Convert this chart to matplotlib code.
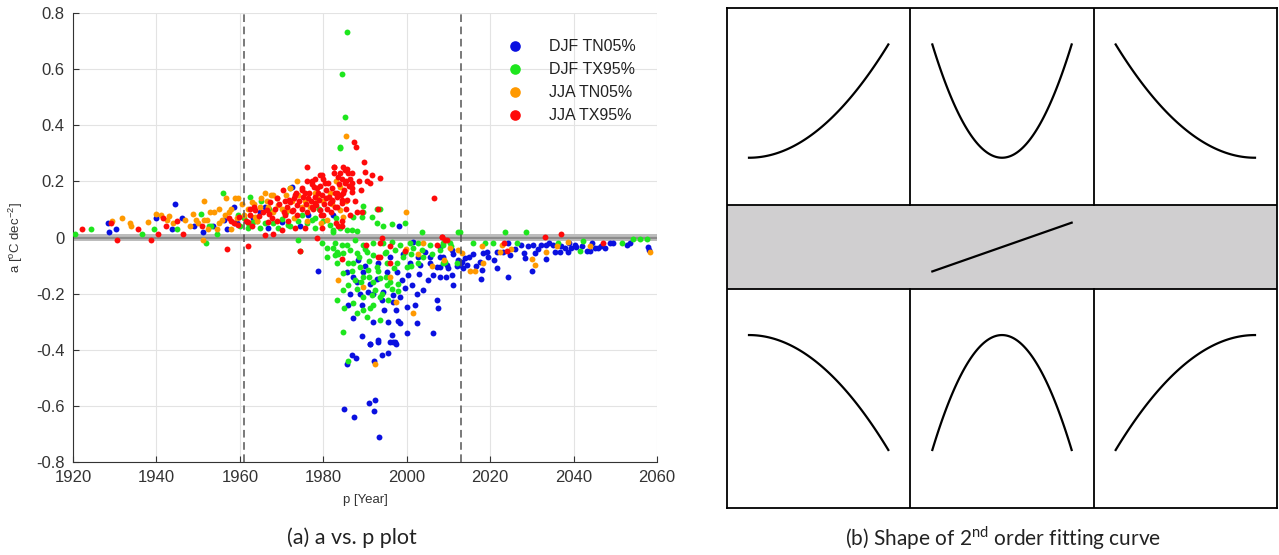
import numpy as np
import matplotlib.pyplot as plt

# ---- panel (a) data: (p [year], a [degC dec^-2])
djf_tn05 = [
    (1928.5, 0.05), (1928.7, 0.02), (1930.3, 0.03), (1940.0, 0.07), (1943.7, 0.03), (1944.5, 0.12),
    (1946.2, 0.07), (1949.0, 0.042), (1951.2, 0.02), (1953.5, 0.042), (1956.3, 0.062), (1957.0, 0.03),
    (1958.6, 0.11), (1959.3, 0.05), (1958.8, 0.05), (1972.6, 0.181), (1964.8, 0.092), (1966.0, 0.11),
    (1963.2, 0.068), (1970.0, 0.056), (1966.8, 0.033), (1974.4, 0.041), (1976.4, 0.08), (1982.4, 0.08),
    (1998.2, 0.041), (1978.8, -0.118),
    (1985.6, -0.122), (1987.2, -0.14), (1988.4, -0.08), (1989.6, -0.122), (1991.2, -0.164), (1992.8, -0.149),
    (1995.2, -0.122), (1997.6, -0.122), (1998.8, -0.152), (2000.4, -0.134), (2001.2, -0.17), (1986.4, -0.2),
    (1988.8, -0.2), (1990.8, -0.193), (1992.0, -0.2), (1994.4, -0.193), (1996.8, -0.205), (1998.4, -0.211),
    (2002.4, -0.2), (2004.0, -0.188), (1994.0, -0.223), (1989.2, -0.241), (1996.8, -0.229), (2000.0, -0.247),
    (1987.2, -0.288), (1992.0, -0.3), (1995.6, -0.3), (1998.0, -0.297), (1998.4, -0.306), (2002.4, -0.306),
    (1989.2, -0.352), (1993.2, -0.366), (1996.4, -0.348), (1997.2, -0.372), (2000.0, -0.342), (2006.4, -0.34),
    (1991.2, -0.378), (2002.8, -0.068), (2004.4, -0.05), (2005.6, -0.092), (2007.2, -0.104), (2009.6, -0.098),
    (2010.8, -0.134), (2005.6, -0.068), (2008.0, -0.068), (2000.8, -0.092), (2003.2, -0.098), (2006.4, -0.134),
    (2007.2, -0.223), (2007.6, -0.253), (2001.6, -0.015),
    (1991.2, -0.38), (1993.2, -0.372), (1996.0, -0.372), (1996.8, -0.372), (1997.4, -0.38), (1986.8, -0.42),
    (1987.8, -0.429), (1985.6, -0.449), (1992.2, -0.44), (1994.1, -0.42), (1995.6, -0.41), (1985.0, -0.61),
    (1987.4, -0.64), (1991.0, -0.589), (1992.4, -0.58), (1992.2, -0.62), (1993.4, -0.711),
    (2008.0, -0.033), (2010.8, -0.045), (2008.8, -0.068), (2008.0, -0.104), (2010.0, -0.11), (2011.2, -0.17),
    (2009.4, -0.14), (2012.4, -0.08), (2012.8, -0.098), (2013.2, -0.086), (2014.0, -0.074), (2014.4, -0.098),
    (2016.0, -0.059), (2017.6, -0.086), (2018.2, -0.056), (2019.2, -0.05), (2018.0, -0.116), (2017.7, -0.149),
    (2021.7, -0.11), (2021.6, -0.05), (2024.4, -0.021), (2024.7, -0.062), (2024.4, -0.14), (2027.5, -0.027),
    (2028.0, -0.056), (2028.3, -0.074), (2030.0, -0.118), (2030.3, -0.027), (2030.7, -0.056), (2032.3, -0.027),
    (2033.4, -0.078), (2033.5, -0.027), (2035.1, -0.027), (2035.5, -0.05), (2036.7, -0.05), (2038.0, -0.039),
    (2038.7, -0.05), (2039.5, -0.039), (2040.3, -0.027), (2040.7, -0.033), (2043.1, -0.047), (2043.9, -0.047),
    (2045.1, -0.039), (2045.9, -0.039), (2047.5, -0.039), (2048.7, -0.018), (2052.7, -0.027), (2057.9, -0.033),
    (2058.1, -0.045),
    (1990.0, -0.1), (1993.0, -0.09), (1996.0, -0.07), (1999.0, -0.06), (2003.0, -0.13), (2005.0, -0.15),
    (2008.0, -0.14), (1994.5, -0.26), (1997.5, -0.26), (2002.0, -0.24), (1999.5, -0.18), (1988.0, -0.16),
    (1986.0, -0.24), (2011.0, -0.06), (2012.0, -0.1), (2013.5, -0.11), (2015.0, -0.07), (2016.5, -0.1),
    (2019.5, -0.07), (2021.0, -0.08), (2023.0, -0.05), (2026.0, -0.04), (2029.0, -0.03), (2031.5, -0.04),
    (2034.0, -0.02), (2037.0, -0.03), (2039.0, -0.02), (2042.0, -0.03), (2044.5, -0.02), (2046.5, -0.03),
    (2049.5, -0.02), (2053.5, -0.02),
]

djf_tx95 = [
    (1924.3, 0.03), (1920.5, 0.012), (1936.5, 0.012), (1939.4, 0.03), (1945.0, 0.03), (1950.7, 0.083),
    (1952.5, 0.042), (1953.2, 0.042), (1952.0, -0.018), (1954.5, 0.012), (1956.0, 0.16), (1960.0, 0.04),
    (1972.0, 0.175), (1962.4, 0.146), (1963.2, 0.056), (1962.0, 0.033), (1964.8, 0.033), (1969.2, 0.033),
    (1971.6, 0.045), (1978.0, 0.033), (1977.2, 0.062), (1982.4, 0.025), (1974.0, -0.009), (1974.4, -0.048),
    (1979.6, -0.019), (1980.8, -0.039), (1982.4, -0.039), (1980.8, -0.069), (1982.8, -0.063), (1984.4, -0.027),
    (1959.6, 0.08), (1984.1, 0.32),
    (1985.8, 0.733), (1984.4, 0.583), (1985.2, 0.431), (1984.0, 0.322),
    (1993.6, 0.1), (1989.6, 0.112), (1989.6, 0.092), (1992.8, 0.1), (1987.2, 0.074), (1989.2, 0.072),
    (1991.6, 0.072), (1992.8, 0.053), (1994.4, 0.041), (1996.4, 0.048), (1999.6, 0.053), (1985.6, 0.027),
    (1986.8, 0.027), (1988.0, 0.024), (1982.4, 0.021), (2003.6, 0.021), (2012.4, 0.021), (1984.0, 0.033),
    (1982.8, -0.021), (1985.6, -0.027), (1987.6, -0.009), (1989.6, -0.027), (1992.0, -0.021), (1994.4, -0.021),
    (1996.4, -0.015), (1998.4, -0.027), (2000.8, -0.021), (2002.8, -0.021), (2005.6, -0.027), (2008.8, -0.027),
    (1983.2, -0.05), (1984.8, -0.056), (1986.4, -0.045), (1988.0, -0.056), (1990.4, -0.05), (1992.0, -0.062),
    (1994.8, -0.056), (1997.2, -0.045), (1999.6, -0.05), (2001.6, -0.039), (2003.6, -0.045), (2008.0, -0.045),
    (1983.2, -0.092), (1987.2, -0.092), (1988.8, -0.104), (1990.8, -0.116), (1992.8, -0.104), (1995.2, -0.092),
    (1997.6, -0.092), (2000.0, -0.104), (2002.8, -0.092), (2009.2, -0.086), (2012.0, -0.092), (1984.8, -0.128),
    (1987.6, -0.152), (1989.6, -0.14), (1992.0, -0.158), (1993.6, -0.146), (1995.2, -0.17), (1996.4, -0.182),
    (1998.0, -0.164), (1984.8, -0.188), (1988.0, -0.182), (1989.6, -0.211), (1991.6, -0.205), (1993.6, -0.211),
    (1995.6, -0.223), (1983.2, -0.223), (1987.2, -0.235), (1989.6, -0.259), (1991.2, -0.253), (1993.6, -0.294),
    (1984.8, -0.336), (1990.4, -0.285), (1992.4, -0.188), (1986.0, -0.44),
    (2012.8, 0.021), (2023.6, 0.021), (2028.6, 0.021), (2008.8, -0.021), (2010.4, -0.018), (2015.8, -0.021),
    (2018.8, -0.018), (2020.8, -0.018), (2026.5, -0.018), (2036.3, -0.018), (2042.3, -0.011), (2051.5, -0.018),
    (2054.3, -0.006), (2055.9, -0.006), (2057.5, -0.006), (2041.5, -0.047), (2008.8, -0.092),
    (1961.0, 0.07), (1962.0, 0.05), (1964.0, 0.06), (1966.0, 0.05), (1968.0, 0.05), (1970.0, 0.065),
    (1972.0, 0.04), (1974.0, 0.06), (1976.0, 0.05), (1978.0, 0.07), (1980.0, 0.06), (1981.5, 0.045),
    (1983.0, 0.07), (1965.0, 0.13), (1967.0, 0.1), (1971.0, 0.09), (1975.0, 0.08), (1979.0, 0.1),
    (1986.0, -0.09), (1988.5, -0.07), (1991.0, -0.085), (1993.0, -0.12), (1995.0, -0.14), (1997.0, -0.11),
    (1999.0, -0.07), (2001.0, -0.06), (2004.0, -0.07), (2006.0, -0.06), (1987.0, -0.12), (1989.0, -0.16),
    (1991.0, -0.14), (1994.0, -0.2), (1996.0, -0.16), (1998.0, -0.19), (1985.0, -0.25), (1988.0, -0.27),
    (1992.0, -0.24), (1986.0, -0.17), (2010.5, -0.03), (2001.0, -0.1), (1983.5, -0.06), (1995.0, -0.05),
    (1990.0, -0.04),
]

jja_tn05 = [
    (1929.4, 0.06), (1931.8, 0.07), (1933.7, 0.05), (1939.9, 0.085), (1941.2, 0.08), (1942.5, 0.063),
    (1943.0, 0.075), (1946.8, 0.063), (1948.7, 0.083), (1951.5, 0.13), (1949.4, 0.062), (1951.4, 0.062),
    (1952.2, 0.062), (1952.3, 0.03), (1952.8, 0.092), (1953.8, 0.092), (1951.2, -0.01), (1954.5, 0.03),
    (1955.0, 0.1), (1955.8, 0.062), (1956.7, 0.14), (1956.5, 0.08), (1957.8, 0.1), (1957.9, 0.03),
    (1958.8, 0.14), (1959.3, 0.07),
    (1959.6, 0.14), (1962.8, 0.128), (1966.0, 0.158), (1968.0, 0.152), (1964.8, 0.11), (1966.8, 0.11),
    (1969.2, 0.116), (1971.6, 0.098), (1974.8, 0.11), (1978.0, 0.158), (1981.6, 0.158), (1972.0, 0.178),
    (1963.6, 0.074), (1980.8, 0.062), (1973.6, 0.2),
    (1985.4, 0.362), (1984.0, 0.098), (1999.9, 0.092), (1984.8, 0.072),
    (1983.6, -0.15), (1989.6, -0.178), (1996.0, -0.14), (2002.8, -0.059), (2001.4, -0.268), (2010.4, -0.039),
    (2012.4, -0.045), (1992.5, -0.449),
    (2022.8, -0.027), (2022.4, -0.05), (2033.5, -0.05), (2038.7, -0.015), (2058.3, -0.05), (2013.2, -0.056),
    (2015.2, -0.118), (2016.4, -0.118), (2018.4, -0.09), (2030.0, -0.078), (2030.7, -0.098),
    (1962.0, 0.1), (1963.5, 0.12), (1965.0, 0.14), (1966.5, 0.13), (1967.5, 0.15), (1969.0, 0.14),
    (1970.0, 0.1), (1971.0, 0.15), (1972.5, 0.13), (1974.0, 0.15), (1975.5, 0.13), (1976.8, 0.11),
    (1978.5, 0.14), (1980.0, 0.13), (1982.0, 0.12), (1961.0, 0.08), (1960.5, 0.12), (1964.0, 0.06),
    (1968.0, 0.09), (1973.0, 0.07), (1976.0, 0.06), (1979.5, 0.05), (1983.0, 0.2), (1984.0, 0.18),
    (1985.5, 0.13), (1957.5, 0.09), (1955.0, 0.05), (1950.0, 0.05), (1948.0, 0.04), (1944.0, 0.05),
    (1938.0, 0.055), (1934.0, 0.04), (1999.8, -0.04), (2004.0, -0.02), (2006.0, -0.1), (2009.0, -0.08),
    (1997.5, -0.23), (2018.0, -0.03), (2025.0, -0.04), (2036.0, -0.03), (2044.0, -0.03),
]

jja_tx95 = [
    (1922.1, 0.03), (1929.0, 0.05), (1930.5, -0.01), (1935.7, 0.03), (1938.7, -0.01), (1940.4, 0.012),
    (1941.6, 0.07), (1942.3, 0.042), (1944.9, 0.06), (1946.4, 0.012), (1951.0, 0.04), (1957.0, -0.04),
    (1957.4, 0.07), (1957.8, 0.06), (1958.6, 0.05),
    (1976.0, 0.253), (1982.6, 0.253), (1982.6, 0.231), (1979.2, 0.223), (1979.8, 0.223), (1977.2, 0.202),
    (1977.8, 0.181), (1980.4, 0.193), (1983.6, 0.217), (1974.8, 0.17), (1975.6, 0.158), (1973.2, 0.152),
    (1971.9, 0.134), (1970.3, 0.17), (1968.8, 0.14), (1967.2, 0.128), (1966.4, 0.098), (1963.6, 0.098),
    (1962.4, 0.08), (1962.0, 0.056), (1959.8, 0.074), (1959.6, 0.045), (1961.9, -0.03), (1974.4, -0.048),
    (1978.4, -0.001), (1980.6, 0.14), (1981.6, 0.122), (1978.0, 0.122), (1977.2, 0.11), (1979.2, 0.098),
    (1980.0, 0.08), (1982.8, 0.11), (1983.2, 0.158), (1984.4, 0.134), (1970.8, 0.08), (1972.8, 0.098),
    (1973.6, 0.116), (1976.4, 0.14), (1978.8, 0.158), (1966.8, 0.056), (1970.0, 0.027), (1973.2, 0.033),
    (1975.6, 0.033), (1979.6, 0.033), (1966.0, 0.008), (1968.0, 0.011),
    (1987.4, 0.342), (1987.8, 0.322),
    (1982.6, 0.253), (1984.8, 0.253), (1985.2, 0.241), (1984.0, 0.229), (1986.0, 0.229), (1987.0, 0.229),
    (1989.8, 0.27), (1990.0, 0.232), (1991.6, 0.223), (1993.6, 0.211), (1990.4, 0.203), (1991.2, 0.193),
    (1986.8, 0.193), (1986.8, 0.175), (1986.8, 0.163), (1985.2, 0.193), (1984.8, 0.158), (1983.2, 0.146),
    (1985.6, 0.134), (1984.4, 0.122), (1982.0, 0.134), (1988.0, 0.092), (1989.2, 0.092), (1983.6, 0.041),
    (1984.4, 0.041), (2006.5, 0.142), (1993.2, 0.1),
    (1990.2, -0.027), (1993.6, -0.021), (1993.6, -0.068), (1984.4, -0.078), (1996.0, -0.092), (1999.6, -0.047),
    (2007.2, -0.027), (2008.4, 0.003), (2009.2, -0.009),
    (2033.1, 0.003), (2037.1, 0.012), (2008.4, 0.003), (2009.6, -0.009), (2023.3, -0.021), (2047.1, -0.018),
    (2024.0, -0.047),
    (1965.5, 0.09), (1967.0, 0.085), (1968.5, 0.1), (1969.5, 0.12), (1970.5, 0.09), (1971.2, 0.11),
    (1972.0, 0.125), (1972.5, 0.095), (1973.0, 0.14), (1973.8, 0.08), (1974.2, 0.13), (1974.8, 0.1),
    (1975.2, 0.145), (1975.8, 0.12), (1976.2, 0.09), (1976.6, 0.16), (1977.0, 0.13), (1977.5, 0.1),
    (1977.9, 0.145), (1978.3, 0.115), (1978.6, 0.175), (1979.0, 0.135), (1979.4, 0.08), (1979.8, 0.15),
    (1980.2, 0.12), (1980.7, 0.17), (1981.0, 0.1), (1981.4, 0.145), (1981.8, 0.09), (1982.2, 0.13),
    (1982.8, 0.16), (1983.3, 0.11), (1983.8, 0.19), (1984.2, 0.15), (1984.6, 0.21), (1985.0, 0.17),
    (1985.5, 0.2), (1985.8, 0.245), (1986.2, 0.185), (1986.5, 0.21), (1984.5, 0.06), (1983.0, 0.05),
    (1967.8, 0.07), (1969.0, 0.06), (1970.8, 0.13), (1971.6, 0.06), (1973.4, 0.16), (1975.0, 0.175),
    (1976.0, 0.2), (1977.3, 0.19), (1978.0, 0.21), (1979.2, 0.185), (1980.0, 0.21), (1981.2, 0.195),
    (1982.0, 0.175), (1962.5, 0.1), (1963.5, 0.11), (1964.5, 0.075), (1961.5, 0.06), (1963.0, 0.04),
    (1988.5, 0.2), (1989.0, 0.17), (1987.5, 0.13), (1985.5, 0.1), (1986.5, 0.08), (1994.0, 0.0),
    (1996.0, -0.03), (1993.0, -0.07),
]

series_names = ["DJF TN05%", "DJF TX95%", "JJA TN05%", "JJA TX95%"]
series_colors = ["#0a10e0", "#1ee61e", "#ff9900", "#ff0a0a"]
split_years = [1961, 2013]

# ---- panel (b) data: 2nd order shapes, rows a>0 / a~0 / a<0, columns vertex left / inside / right
curv_sign = [1, 0, -1]
vertex_pos = [0.0, 0.5, 1.0]

plt.rcParams['font.family'] = ['Liberation Sans', 'DejaVu Sans']

fig = plt.figure(figsize=(12.79, 5.55), dpi=100)

# ---------------- (a) scatter ----------------
ax = fig.add_axes([73 / 1279, 93 / 555, 584 / 1279, 449 / 555])
for pts, name, col in zip([djf_tn05, djf_tx95, jja_tn05, jja_tx95], series_names, series_colors):
    xs = [p[0] for p in pts]
    ys = [p[1] for p in pts]
    ax.scatter(xs, ys, s=18, color=col, linewidths=0, label=name, zorder=3)

ax.axhspan(-0.014, 0.014, color="#bdbdbd", lw=0, zorder=2)
ax.axhline(0, color="#8c8c8c", lw=1.6, zorder=2)
for yr in split_years:
    ax.axvline(yr, color="#555555", lw=1.1, ls=(0, (5, 3)), zorder=4)

ax.set_xlim(1920, 2060)
ax.set_ylim(-0.8, 0.8)
ax.set_xticks(np.arange(1920, 2061, 20))
yt = np.round(np.arange(-0.8, 0.81, 0.2), 1)
ax.set_yticks(yt)
ax.set_yticklabels(["0" if v == 0 else ("%g" % v) for v in yt])
ax.grid(True, color="#e3e3e3", lw=0.8)
ax.set_axisbelow(True)
for s in ["top", "right"]:
    ax.spines[s].set_visible(False)
for s in ["left", "bottom"]:
    ax.spines[s].set_color("#333333")
ax.tick_params(direction="in", length=4, labelsize=12, colors="#333333", pad=6)
ax.set_xlabel("p [Year]", fontsize=9.5, color="#333333", labelpad=6)
ax.set_ylabel("a [$^{\\mathregular{o}}$C dec$^{\\mathregular{-2}}$]", fontsize=9.5, color="#333333", labelpad=8)

leg = ax.legend(loc="upper left", bbox_to_anchor=(0.705, 0.975), frameon=False, fontsize=11.5,
                markerscale=1.8, handletextpad=1.1, labelspacing=0.5, scatterpoints=1)
for t in leg.get_texts():
    t.set_color("#222222")

# ---------------- (b) schematic ----------------
# vertical units: bottom cell 0-1, grey band 1-(1+bh), top cell (1+bh)-(1+bh+ht)
bh = 0.384
ht = 0.9
bx = fig.add_axes([727 / 1279, 47 / 555, 550 / 1279, 500 / 555])
bx.set_xlim(0, 3)
bx.set_ylim(0, 1 + bh + ht)
bx.set_xticks([])
bx.set_yticks([])
for s in bx.spines.values():
    s.set_color("black")
    s.set_linewidth(1.3)
bx.axhspan(1, 1 + bh, color="#d0cfd0", lw=0)
bx.axhline(1, color="black", lw=1.3)
bx.axhline(1 + bh, color="black", lw=1.3)
for c in [1, 2]:
    bx.plot([c, c], [0, 1], color="black", lw=1.3)
    bx.plot([c, c], [1 + bh, 1 + bh + ht], color="black", lw=1.3)

u = np.linspace(0, 1, 100)
for r, a in enumerate(curv_sign):
    for c, p in enumerate(vertex_pos):
        xs = c + 0.12 + 0.76 * u
        if a == 0:
            if c == 1:
                bx.plot(xs, 1 + bh * (0.21 + 0.58 * u), color="black", lw=1.6)
            continue
        q = (u - p) ** 2
        q = q / q.max()
        if a > 0:
            ys = 1 + bh + 0.24 * ht + 0.575 * ht * q
        else:
            ys = 0.79 - 0.525 * q
        bx.plot(xs, ys, color="black", lw=1.6)

# ---------------- captions ----------------
fig.text(352 / 1279, 1 - 538 / 555, "(a) a vs. p plot", ha="center", va="center", fontsize=15.5,
         family="Lato", color="#222222")
fig.text(1003 / 1279, 1 - 538 / 555, "(b) Shape of 2$^{\\mathregular{nd}}$ order fitting curve",
         ha="center", va="center", fontsize=15, family="Lato", color="#222222")

fig.savefig("out.png", dpi=100)
